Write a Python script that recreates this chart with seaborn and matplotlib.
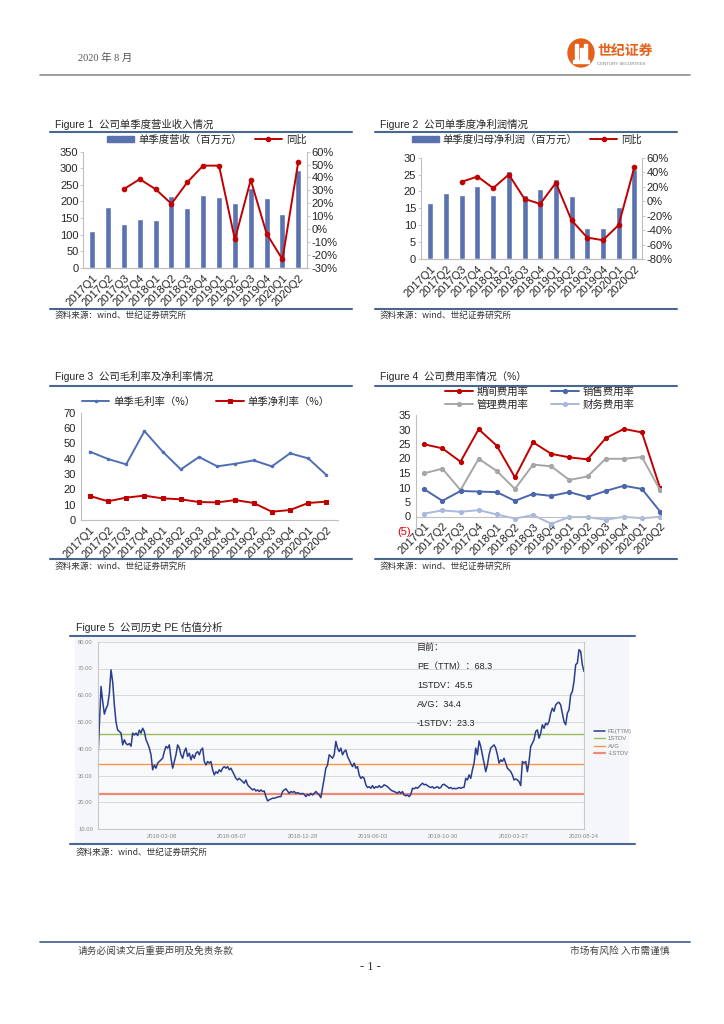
import numpy as np
import pandas as pd
import seaborn as sns
import matplotlib.pyplot as plt
from matplotlib.lines import Line2D
from matplotlib.patches import Rectangle, Ellipse, Patch
from matplotlib.ticker import FuncFormatter

# ---------------- data ----------------
quarters = ['2017Q1', '2017Q2', '2017Q3', '2017Q4', '2018Q1', '2018Q2', '2018Q3',
            '2018Q4', '2019Q1', '2019Q2', '2019Q3', '2019Q4', '2020Q1', '2020Q2']

revenue = [110, 184, 132, 148, 144, 216, 181, 220, 214, 196, 240, 209, 161, 295]
revenue_yoy = [np.nan, np.nan, 31, 38.7, 30.9, 19.6, 36.3, 49.2, 49.2, -8.1, 38.1, -3.5, -23.6, 52.3]

profit = [16.5, 19.4, 18.9, 21.7, 19.1, 26.0, 19.1, 20.7, 23.7, 18.6, 9.2, 9.2, 15.3, 26.8]
profit_yoy = [np.nan, np.nan, 26.7, 34, 18, 36.7, 3, -3.8, 25.3, -26.6, -50.4, -54, -33, 46.8]

gross_margin = [44.6, 39.8, 36.3, 58.0, 44.6, 33.0, 41.1, 35.0, 36.7, 38.9, 35.0, 43.5, 40.2, 29.3]
net_margin = [15.7, 12.2, 14.6, 15.9, 14.1, 13.5, 11.7, 11.5, 13.0, 11.1, 5.4, 6.5, 11.1, 12.0]

period_exp = [24.9, 23.5, 18.9, 30.1, 24.4, 13.5, 25.6, 21.6, 20.4, 19.7, 27.0, 30.2, 29.0, 9.8]
sales_exp = [9.4, 5.4, 8.8, 8.6, 8.4, 5.4, 7.8, 7.1, 8.4, 6.7, 8.8, 10.6, 9.5, 1.7]
admin_exp = [14.9, 16.5, 9.1, 19.9, 15.7, 9.5, 17.9, 17.3, 12.6, 13.8, 19.9, 19.9, 20.5, 9.1]
fin_exp = [1.0, 2.1, 1.6, 2.2, 0.7, -0.7, 0.5, -2.5, -0.2, -0.2, -1.1, -0.1, -0.6, -0.1]

pe_ttm = [
    33.4, 49, 63.3, 57.7, 53, 55, 56.4, 60.8, 69.5, 65, 56.4, 50, 47, 46.5, 45.9, 41.5,
    43.4, 42, 41.5, 42, 41, 45.9, 45.2, 45.9, 45, 47, 45.9, 47.7, 46.5, 43.4, 42, 40.3,
    37.8, 32.2, 34, 32.8, 34.7, 35.3, 35.9, 36.5, 39, 40.9, 40.3, 41.5, 36.5, 32.8, 35.3,
    37.8, 41.5, 40.3, 37.8, 36.5, 39, 40.3, 37.2, 38.4, 35.9, 37.8, 36.5, 38.4, 39, 37.8,
    39.6, 40.3, 35.3, 34, 35.3, 34.7, 35.3, 32.2, 30.3, 31.5, 30.9, 32.2, 31.5, 32.8, 33.4,
    32.8, 33.4, 32.2, 32.8, 31.5, 30.3, 29, 28.4, 29, 28.4, 27.8, 27.2, 28.4, 26.6, 25.9,
    25.3, 24.7, 25.1, 24.3, 24.7, 24.1, 24.7, 24.1, 24.3, 22.2, 20.6, 21, 21.3, 21.6, 21.6,
    21.8, 22, 22.2, 22.2, 24.1, 24.7, 25.1, 24.3, 23.4, 24.1, 23.8, 24.1, 23.4, 23.7, 23.4,
    23.2, 23.4, 23, 22.2, 23, 22.6, 23.4, 22.8, 23.4, 24.1, 23.4, 22.8, 21.8, 25.3, 29,
    32.8, 34, 37.8, 37.2, 36.5, 37.8, 42.8, 40.3, 39, 40.3, 37.8, 39, 39.6, 37.2, 35.9,
    34.5, 33.4, 34.7, 32.8, 33.4, 30.3, 29, 29.6, 29, 26.6, 25.6, 25.9, 25.3, 26.3, 25.3,
    25.9, 25.6, 26.3, 25.6, 25.9, 26.6, 26.3, 25.9, 25.3, 24.7, 24.3, 24.1, 23.8, 23.4,
    24.1, 23.4, 24.1, 22.8, 22.5, 22.8, 22.2, 23, 25.3, 25.1, 25.6, 25.3, 25.9, 26.6, 27.2,
    26.6, 26.8, 26.3, 25.9, 25.6, 25.9, 25.3, 25.6, 25.9, 25.3, 25.6, 26.6, 26.8, 26.3,
    25.9, 25.3, 25.6, 25.1, 25.3, 25.1, 25.3, 25.6, 25.3, 25.6, 25.7, 29, 28.4, 30.3, 29,
    32.2, 34.7, 40.3, 37.8, 43, 40.9, 37.8, 34.7, 31.5, 34, 37.8, 40.3, 40.9, 41.5, 40.3,
    37.8, 34.7, 35.9, 35.3, 36.5, 34.7, 32.8, 32.2, 31.5, 30.3, 28.4, 28.8, 28.4, 27.8,
    26.3, 35.3, 34.7, 35.3, 31.5, 35.3, 40.9, 42.1, 43.4, 46.5, 47.1, 44, 45.9, 49, 47.7,
    49.6, 49, 50.2, 53.3, 55.2, 54, 56.4, 57.1, 57.4, 56.4, 53.3, 50.2, 49, 53.3, 54.6,
    60.2, 61.4, 65.2, 71.4, 72, 77, 76.4, 71.4, 68.9]
pe_dates = ['2018-03-08', '2018-08-07', '2018-12-28', '2019-06-03', '2019-10-30', '2020-03-27', '2020-08-24']
pe_bands = {'1STDV': 45.5, 'AVG': 34.4, '-1STDV': 23.3}

# ---------------- setup ----------------
sns.set_theme(style='white')
plt.rcParams['font.family'] = ['Liberation Sans', 'Noto Sans CJK SC', 'DejaVu Sans']
plt.rcParams['axes.unicode_minus'] = False
cjk = ['Noto Sans CJK SC', 'DejaVu Sans']

W, H = 724, 1024
fig = plt.figure(figsize=(W / 100, H / 100), dpi=100)
fig.patch.set_facecolor('white')


def px_axes(x0, y0, x1, y1):
    return fig.add_axes([x0 / W, 1 - y1 / H, (x1 - x0) / W, (y1 - y0) / H])


def px_line(x0, x1, y, color='#4a6790', lw=1.5):
    fig.add_artist(Line2D([x0 / W, x1 / W], [1 - y / H] * 2, color=color, lw=lw))


def px_text(x, y, s, **kw):
    kw.setdefault('va', 'center')
    fig.text(x / W, 1 - y / H, s, **kw)


bar_blue = '#5b72b0'
red = '#c00000'
gray_spine = '#bfbfbf'
pct = FuncFormatter(lambda v, p: f'{int(round(v))}%')


def style_axes(ax, left=True, right=False, bottom=True):
    for side, show in [('left', left), ('right', right), ('bottom', bottom), ('top', False)]:
        ax.spines[side].set_visible(show)
        ax.spines[side].set_color(gray_spine)
        ax.spines[side].set_linewidth(0.8)
    ax.tick_params(labelsize=8, length=2, width=0.6, color=gray_spine, pad=1.5)
    ax.set_xlabel('')
    ax.set_ylabel('')


def quarter_ticks(ax):
    ax.set_xticks(range(len(quarters)))
    ax.set_xticklabels(quarters, rotation=45, ha='right', rotation_mode='anchor', fontsize=8)


# ---------------- header / footer ----------------
px_text(78, 58, '2020 年 8 月', fontsize=7.5, color='#555555',
        family=['Liberation Serif', 'Noto Sans CJK SC'])
px_line(40, 690, 75, color='#8c8c8c', lw=1.2)
fig.add_artist(Ellipse((581 / W, 1 - 53 / H), 26 / W, 28 / H, transform=fig.transFigure,
                       color='#e5601a', zorder=3))
for rx, ry, rw, rh in [(575, 44, 3, 18), (584, 44, 3, 18), (579.5, 48, 3, 14), (573, 60, 16, 3)]:
    fig.add_artist(Rectangle((rx / W, 1 - (ry + rh) / H), rw / W, rh / H,
                             transform=fig.transFigure, color='white', zorder=4))
px_text(597, 51, '世纪证券', fontsize=10, fontweight='bold', color='#e5601a', family=cjk)
px_text(597, 64, 'CENTURY SECURITIES', fontsize=3.2, color='#7a7a7a')

px_line(40, 690, 942, color='#3b5a8c', lw=1.2)
px_text(78, 951, '请务必阅读文后重要声明及免责条款', fontsize=7, color='#444444', family=cjk)
px_text(670, 951, '市场有风险 入市需谨慎', fontsize=7, color='#444444', family=cjk, ha='right')
px_text(370, 967, '- 1 -', fontsize=9, color='#333333', ha='center', family=['Liberation Serif'])

# ---------------- Figure 1 ----------------
px_text(55, 124, 'Figure 1  公司单季度营业收入情况', fontsize=7.5)
px_line(50, 352, 131.7)
px_line(50, 352, 309.3)
px_text(55, 315.5, '资料来源：wind、世纪证券研究所', fontsize=6.2, family=cjk, color='#333333')

df1 = pd.DataFrame({'pos': range(14), 'rev': revenue, 'yoy': revenue_yoy})
ax1 = px_axes(83.3, 151.7, 306.7, 267.7)
sns.barplot(data=df1, x='pos', y='rev', color=bar_blue, saturation=1, width=0.38, ax=ax1)
ax1.set_ylim(0, 350)
ax1.set_yticks(range(0, 351, 50))
ax1b = ax1.twinx()
sns.lineplot(data=df1, x='pos', y='yoy', color=red, lw=1.4, marker='o', markersize=3.3,
             markeredgecolor=red, ax=ax1b)
ax1b.set_ylim(-30, 60)
ax1b.set_yticks(range(-30, 61, 10))
ax1b.yaxis.set_major_formatter(pct)
style_axes(ax1, right=False)
style_axes(ax1b, left=False, right=True)
quarter_ticks(ax1)
ax1.set_xlim(-0.56, 13.53)
fig.legend([Patch(color=bar_blue), Line2D([], [], color=red, lw=1.4, marker='o', markersize=3)],
           ['单季度营收（百万元）', '同比'], loc='center', bbox_to_anchor=(207 / W, 1 - 139.3 / H),
           ncol=2, frameon=False, prop={'family': cjk, 'size': 7.5}, handlelength=2.6,
           handleheight=0.55, columnspacing=1.2, handletextpad=0.4)

# ---------------- Figure 2 ----------------
px_text(380, 124, 'Figure 2  公司单季度净利润情况', fontsize=7.5)
px_line(375, 677, 131.7)
px_line(375, 677, 309.3)
px_text(380, 315.5, '资料来源：wind、世纪证券研究所', fontsize=6.2, family=cjk, color='#333333')

df2 = pd.DataFrame({'pos': range(14), 'profit': profit, 'yoy': profit_yoy})
ax2 = px_axes(421, 157.7, 641.7, 259)
sns.barplot(data=df2, x='pos', y='profit', color=bar_blue, saturation=1, width=0.38, ax=ax2)
ax2.set_ylim(0, 30)
ax2.set_yticks(range(0, 31, 5))
ax2b = ax2.twinx()
sns.lineplot(data=df2, x='pos', y='yoy', color=red, lw=1.4, marker='o', markersize=3.3,
             markeredgecolor=red, ax=ax2b)
ax2b.set_ylim(-80, 60)
ax2b.set_yticks(range(-80, 61, 20))
ax2b.yaxis.set_major_formatter(pct)
style_axes(ax2)
style_axes(ax2b, left=False, right=True)
quarter_ticks(ax2)
ax2.set_xlim(-0.6, 13.47)
fig.legend([Patch(color=bar_blue), Line2D([], [], color=red, lw=1.4, marker='o', markersize=3)],
           ['单季度归母净利润（百万元）', '同比'], loc='center', bbox_to_anchor=(527 / W, 1 - 139.3 / H),
           ncol=2, frameon=False, prop={'family': cjk, 'size': 7.5}, handlelength=2.6,
           handleheight=0.55, columnspacing=1.2, handletextpad=0.4)

# ---------------- Figure 3 ----------------
px_text(55, 376.7, 'Figure 3  公司毛利率及净利率情况', fontsize=7.5)
px_line(50, 352, 385.7)
px_line(50, 352, 559.3)
px_text(55, 566.7, '资料来源：wind、世纪证券研究所', fontsize=6.2, family=cjk, color='#333333')

df3 = pd.DataFrame({'pos': range(14), 'gross': gross_margin, 'net': net_margin})
ax3 = px_axes(80.7, 412.7, 338.3, 520)
sns.lineplot(data=df3, x='pos', y='gross', color='#4f6fb5', lw=1.4, marker='o', markersize=1.8,
             markeredgecolor='#4f6fb5', ax=ax3, label='单季毛利率（%）')
sns.lineplot(data=df3, x='pos', y='net', color=red, lw=1.4, marker='s', markersize=3,
             markeredgecolor=red, ax=ax3, label='单季净利率（%）')
ax3.set_ylim(0, 70)
ax3.set_yticks(range(0, 71, 10))
style_axes(ax3)
quarter_ticks(ax3)
ax3.set_xlim(-0.5, 13.65)
ax3.legend(loc='center', bbox_to_anchor=(206 / W, 1 - 401.7 / H), bbox_transform=fig.transFigure,
           ncol=2, frameon=False, prop={'family': cjk, 'size': 7.5}, handlelength=2.6,
           columnspacing=2.0, handletextpad=0.4)

# ---------------- Figure 4 ----------------
px_text(380, 376.7, 'Figure 4  公司费用率情况（%）', fontsize=7.5)
px_line(375, 677, 385.7)
px_line(375, 677, 559.3)
px_text(380, 566.7, '资料来源：wind、世纪证券研究所', fontsize=6.2, family=cjk, color='#333333')

df4 = pd.DataFrame({'pos': range(14), 'period': period_exp, 'sales': sales_exp,
                    'admin': admin_exp, 'fin': fin_exp})
ax4 = px_axes(415.7, 415, 661, 531)
series4 = [('period', '期间费用率', red), ('admin', '管理费用率', '#a6a6a6'),
           ('sales', '销售费用率', '#4a66ac'), ('fin', '财务费用率', '#a9b9de')]
for col, lab, colr in series4:
    sns.lineplot(data=df4, x='pos', y=col, color=colr, lw=1.4, marker='o', markersize=3,
                 markeredgecolor=colr, ax=ax4, label=lab)
ax4.set_ylim(-5, 35)
ax4.set_yticks(range(-5, 36, 5))
ax4.yaxis.set_major_formatter(FuncFormatter(lambda v, p: f'({int(-v)})' if v < 0 else f'{int(v)}'))
style_axes(ax4)
ax4.spines['bottom'].set_position(('data', 0))
quarter_ticks(ax4)
ax4.set_xlim(-0.47, 13.05)
for t in ax4.get_yticklabels():
    if t.get_text().startswith('('):
        t.set_color('#e00000')
ax4.legend(loc='center', bbox_to_anchor=(540 / W, 1 - 398 / H), bbox_transform=fig.transFigure,
           ncol=2, frameon=False, prop={'family': cjk, 'size': 7.5}, handlelength=2.6,
           columnspacing=2.2, handletextpad=0.4, labelspacing=0.25)

# ---------------- Figure 5 ----------------
px_text(76, 627.3, 'Figure 5  公司历史 PE 估值分析', fontsize=7.5)
px_line(70, 635, 635.7)
px_line(70, 635, 844.3)
px_text(76, 852, '资料来源：wind、世纪证券研究所', fontsize=6.2, family=cjk, color='#333333')
fig.add_artist(Rectangle((75 / W, 1 - 842 / H), (628 - 75) / W, (842 - 637.5) / H,
                         transform=fig.transFigure, color='#f4f6fa', zorder=0))

df5 = pd.DataFrame({'day': np.arange(len(pe_ttm)), 'pe': pe_ttm})
ax5 = px_axes(97.7, 641.7, 584, 829.3)
ax5.set_facecolor('#f8f9fb')
sns.lineplot(data=df5, x='day', y='pe', color='#2b3e8c', lw=1.1, ax=ax5, label='PE(TTM)')
for (name, val), colr, lw in zip(pe_bands.items(), ['#9bbb59', '#f79646', '#f08a78'], [1.0, 1.0, 1.6]):
    ax5.axhline(val, color=colr, lw=lw, label=name, zorder=1)
ax5.set_ylim(10, 80)
ax5.set_yticks(range(10, 81, 10))
ax5.yaxis.set_major_formatter(FuncFormatter(lambda v, p: f'{v:.2f}'))
ax5.yaxis.grid(True, color='#d9d9d9', lw=0.7)
ax5.set_axisbelow(True)
n = len(pe_ttm) - 1
tick_step = 0.1447
ax5.set_xticks([n * (1 - k * tick_step) for k in range(len(pe_dates) - 1, -1, -1)])
ax5.set_xticklabels(pe_dates)
ax5.set_xlim(0, n)
for side in ['left', 'bottom', 'right']:
    ax5.spines[side].set_color('#c8c8c8')
    ax5.spines[side].set_linewidth(0.8)
ax5.spines['top'].set_visible(False)
ax5.tick_params(labelsize=4.2, labelcolor='#8a8a8a', length=2, width=0.5, color='#c8c8c8', pad=1.5)
ax5.set_xlabel('')
ax5.set_ylabel('')
leg = ax5.legend(loc='upper left', bbox_to_anchor=(589 / W, 1 - 724 / H), bbox_transform=fig.transFigure,
                 frameon=False, fontsize=4.2, handlelength=1.8, labelspacing=0.35, handletextpad=0.5)
for t in leg.get_texts():
    t.set_color('#7a7a7a')

pe_notes = ['目前：', 'PE（TTM）：68.3', '1STDV：45.5', 'AVG：34.4', '-1STDV：23.3']
for i, s in enumerate(pe_notes):
    px_text(417, 647.5 + i * 19, s, fontsize=6.5, color='#222222')

fig.savefig('out.png', dpi=100)
